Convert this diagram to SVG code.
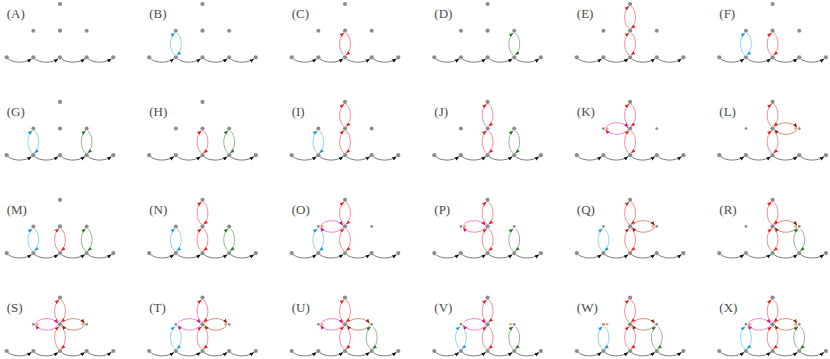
<svg xmlns="http://www.w3.org/2000/svg" xmlns:xlink="http://www.w3.org/1999/xlink" width="830" height="359" viewBox="0 0 830 359">
<style>
.lbl{font-family:"Liberation Serif","Times New Roman",serif;font-size:13px;fill:#4a4a4a}
.ck{fill:none;stroke:#5a5a5a;stroke-width:0.8}
.eb{fill:none;stroke:#6cc4ef;stroke-width:0.75}
.er{fill:none;stroke:#f46a6a;stroke-width:0.75}
.eg{fill:none;stroke:#6aa66a;stroke-width:0.75}
.ep{fill:none;stroke:#f064b4;stroke-width:0.75}
.eo{fill:none;stroke:#c46a52;stroke-width:0.75}
.n{fill:#8c8c8c}
.sm{fill:#8c8c8c}
.s{fill:#f4a274}
</style>
<defs>
<marker id="ak" viewBox="0 0 10 10" refX="9" refY="5" markerWidth="4.5" markerHeight="4.5" markerUnits="userSpaceOnUse" orient="auto"><path d="M0,1 L10,5 L0,9 z" fill="#111"/></marker>
<marker id="ab" viewBox="0 0 10 10" refX="9" refY="5" markerWidth="4.5" markerHeight="4.5" markerUnits="userSpaceOnUse" orient="auto"><path d="M0,1 L10,5 L0,9 z" fill="#1e9be0"/></marker>
<marker id="ar" viewBox="0 0 10 10" refX="9" refY="5" markerWidth="4.5" markerHeight="4.5" markerUnits="userSpaceOnUse" orient="auto"><path d="M0,1 L10,5 L0,9 z" fill="#ff1a1a"/></marker>
<marker id="ag" viewBox="0 0 10 10" refX="9" refY="5" markerWidth="4.5" markerHeight="4.5" markerUnits="userSpaceOnUse" orient="auto"><path d="M0,1 L10,5 L0,9 z" fill="#2a7a2a"/></marker>
<marker id="ap" viewBox="0 0 10 10" refX="9" refY="5" markerWidth="4.5" markerHeight="4.5" markerUnits="userSpaceOnUse" orient="auto"><path d="M0,1 L10,5 L0,9 z" fill="#e0108a"/></marker>
<marker id="ao" viewBox="0 0 10 10" refX="9" refY="5" markerWidth="4.5" markerHeight="4.5" markerUnits="userSpaceOnUse" orient="auto"><path d="M0,1 L10,5 L0,9 z" fill="#8f2a10"/></marker>
<g id="chain">
<path class="ck" d="M1.5,1.5 C7,6 18,6 24.6,1.6" marker-end="url(#ak)"/>
<path class="ck" d="M28.15,1.5 C33.65,6 44.65,6 51.25,1.6" marker-end="url(#ak)"/>
<path class="ck" d="M54.8,1.5 C60.3,6 71.3,6 77.9,1.6" marker-end="url(#ak)"/>
<path class="ck" d="M81.45,1.5 C86.95,6 97.95,6 104.55,1.6" marker-end="url(#ak)"/>
</g>
<g id="vB"><path class="eb" d="M-1.2,-2.3 C-6.8,-7 -6.8,-19.6 -1.2,-24.3" marker-end="url(#ab)"/><path class="eb" d="M1.2,-24.3 C6.8,-19.6 6.8,-7 1.2,-2.3" marker-end="url(#ab)"/></g>
<g id="vR"><path class="er" d="M-1.2,-2.3 C-6.8,-7 -6.8,-19.6 -1.2,-24.3" marker-end="url(#ar)"/><path class="er" d="M1.2,-24.3 C6.8,-19.6 6.8,-7 1.2,-2.3" marker-end="url(#ar)"/></g>
<g id="vG"><path class="eg" d="M-1.2,-2.3 C-6.8,-7 -6.8,-19.6 -1.2,-24.3" marker-end="url(#ag)"/><path class="eg" d="M1.2,-24.3 C6.8,-19.6 6.8,-7 1.2,-2.3" marker-end="url(#ag)"/></g>
<g id="hP"><path class="ep" d="M2.3,-1.2 C7,-7.3 19.65,-7.3 24.35,-1.2" marker-end="url(#ap)"/><path class="ep" d="M24.35,1.2 C19.65,7.3 7,7.3 2.3,1.2" marker-end="url(#ap)"/></g>
<g id="hO"><path class="eo" d="M2.3,-1.2 C7,-7.3 19.65,-7.3 24.35,-1.2" marker-end="url(#ao)"/><path class="eo" d="M24.35,1.2 C19.65,7.3 7,7.3 2.3,1.2" marker-end="url(#ao)"/></g>
<g id="base">
<circle class="n" cx="0" cy="0" r="2.1"/><circle class="n" cx="26.65" cy="0" r="2.1"/><circle class="n" cx="53.3" cy="0" r="2.1"/><circle class="n" cx="79.95" cy="0" r="2.1"/><circle class="n" cx="106.6" cy="0" r="2.1"/>
<circle class="n" cx="53.3" cy="-26.65" r="2.1"/><circle class="n" cx="53.3" cy="-53.3" r="2.1"/>
</g>
<g id="sideN"><circle class="n" cx="26.65" cy="-26.65" r="2"/><circle class="n" cx="79.95" cy="-26.65" r="2"/></g>
<g id="sideS"><circle class="sm" cx="26.65" cy="-26.65" r="1.4"/><circle class="sm" cx="79.95" cy="-26.65" r="1.4"/></g>
<circle id="s1" class="s" cx="30.3" cy="-26.65" r="1.4"/>
<circle id="s3" class="s" cx="76.3" cy="-26.65" r="1.4"/>
</defs>

<g id="A" transform="translate(6.7,57.3)"><text class="lbl" y="-39.5">(A)</text><g class="conn"><use href="#chain"/></g><g class="nodes"><use href="#base"/><use href="#sideN"/></g></g>
<g id="B" transform="translate(149.2,57.3)"><text class="lbl" y="-39.5">(B)</text><g class="conn"><use href="#chain"/><use href="#vB" x="26.65"/></g><g class="nodes"><use href="#base"/><use href="#sideN"/></g></g>
<g id="C" transform="translate(291.7,57.3)"><text class="lbl" y="-39.5">(C)</text><g class="conn"><use href="#chain"/><use href="#vR" x="53.3"/></g><g class="nodes"><use href="#base"/><use href="#sideN"/></g></g>
<g id="D" transform="translate(434.3,57.3)"><text class="lbl" y="-39.5">(D)</text><g class="conn"><use href="#chain"/><use href="#vG" x="79.95"/></g><g class="nodes"><use href="#base"/><use href="#sideN"/></g></g>
<g id="E" transform="translate(576.8,57.3)"><text class="lbl" y="-39.5">(E)</text><g class="conn"><use href="#chain"/><use href="#vR" x="53.3"/><use href="#vR" x="53.3" y="-26.65"/></g><g class="nodes"><use href="#base"/><use href="#sideN"/></g></g>
<g id="F" transform="translate(719.3,57.3)"><text class="lbl" y="-39.5">(F)</text><g class="conn"><use href="#chain"/><use href="#vB" x="26.65"/><use href="#vR" x="53.3"/></g><g class="nodes"><use href="#base"/><use href="#sideN"/></g></g>

<g id="G" transform="translate(6.7,155.2)"><text class="lbl" y="-39.5">(G)</text><g class="conn"><use href="#chain"/><use href="#vB" x="26.65"/><use href="#vG" x="79.95"/></g><g class="nodes"><use href="#base"/><use href="#sideN"/></g></g>
<g id="H" transform="translate(149.2,155.2)"><text class="lbl" y="-39.5">(H)</text><g class="conn"><use href="#chain"/><use href="#vR" x="53.3"/><use href="#vG" x="79.95"/></g><g class="nodes"><use href="#base"/><use href="#sideN"/></g></g>
<g id="I" transform="translate(291.7,155.2)"><text class="lbl" y="-39.5">(I)</text><g class="conn"><use href="#chain"/><use href="#vB" x="26.65"/><use href="#vR" x="53.3"/><use href="#vR" x="53.3" y="-26.65"/></g><g class="nodes"><use href="#base"/><use href="#sideN"/></g></g>
<g id="J" transform="translate(434.3,155.2)"><text class="lbl" y="-39.5">(J)</text><g class="conn"><use href="#chain"/><use href="#vR" x="53.3"/><use href="#vR" x="53.3" y="-26.65"/><use href="#vG" x="79.95"/></g><g class="nodes"><use href="#base"/><use href="#sideN"/></g></g>
<g id="K" transform="translate(576.8,155.2)"><text class="lbl" y="-39.5">(K)</text><g class="conn"><use href="#chain"/><use href="#vR" x="53.3"/><use href="#vR" x="53.3" y="-26.65"/><use href="#hP" x="26.65" y="-26.65"/></g><g class="nodes"><use href="#base"/><use href="#sideS"/><use href="#s1"/></g></g>
<g id="L" transform="translate(719.3,155.2)"><text class="lbl" y="-39.5">(L)</text><g class="conn"><use href="#chain"/><use href="#vR" x="53.3"/><use href="#vR" x="53.3" y="-26.65"/><use href="#hO" x="53.3" y="-26.65"/></g><g class="nodes"><use href="#base"/><use href="#sideS"/><use href="#s3"/></g></g>

<g id="M" transform="translate(6.7,253.1)"><text class="lbl" y="-39.5">(M)</text><g class="conn"><use href="#chain"/><use href="#vB" x="26.65"/><use href="#vR" x="53.3"/><use href="#vG" x="79.95"/></g><g class="nodes"><use href="#base"/><use href="#sideN"/></g></g>
<g id="N" transform="translate(149.2,253.1)"><text class="lbl" y="-39.5">(N)</text><g class="conn"><use href="#chain"/><use href="#vB" x="26.65"/><use href="#vR" x="53.3"/><use href="#vR" x="53.3" y="-26.65"/><use href="#vG" x="79.95"/></g><g class="nodes"><use href="#base"/><use href="#sideN"/></g></g>
<g id="O" transform="translate(291.7,253.1)"><text class="lbl" y="-39.5">(O)</text><g class="conn"><use href="#chain"/><use href="#vB" x="26.65"/><use href="#vR" x="53.3"/><use href="#vR" x="53.3" y="-26.65"/><use href="#hP" x="26.65" y="-26.65"/></g><g class="nodes"><use href="#base"/><use href="#sideS"/><use href="#s1"/></g></g>
<g id="P" transform="translate(434.3,253.1)"><text class="lbl" y="-39.5">(P)</text><g class="conn"><use href="#chain"/><use href="#vR" x="53.3"/><use href="#vR" x="53.3" y="-26.65"/><use href="#hP" x="26.65" y="-26.65"/><use href="#vG" x="79.95"/></g><g class="nodes"><use href="#base"/><use href="#sideS"/><use href="#s1"/></g></g>
<g id="Q" transform="translate(576.8,253.1)"><text class="lbl" y="-39.5">(Q)</text><g class="conn"><use href="#chain"/><use href="#vB" x="26.65"/><use href="#vR" x="53.3"/><use href="#vR" x="53.3" y="-26.65"/><use href="#hO" x="53.3" y="-26.65"/></g><g class="nodes"><use href="#base"/><use href="#sideS"/><use href="#s3"/></g></g>
<g id="R" transform="translate(719.3,253.1)"><text class="lbl" y="-39.5">(R)</text><g class="conn"><use href="#chain"/><use href="#vR" x="53.3"/><use href="#vR" x="53.3" y="-26.65"/><use href="#hO" x="53.3" y="-26.65"/><use href="#vG" x="79.95"/></g><g class="nodes"><use href="#base"/><use href="#sideS"/><use href="#s3"/></g></g>

<g id="S" transform="translate(6.7,351)"><text class="lbl" y="-39.5">(S)</text><g class="conn"><use href="#chain"/><use href="#vR" x="53.3"/><use href="#vR" x="53.3" y="-26.65"/><use href="#hP" x="26.65" y="-26.65"/><use href="#hO" x="53.3" y="-26.65"/></g><g class="nodes"><use href="#base"/><use href="#sideS"/><use href="#s1"/><use href="#s3"/></g></g>
<g id="T" transform="translate(149.2,351)"><text class="lbl" y="-39.5">(T)</text><g class="conn"><use href="#chain"/><use href="#vB" x="26.65"/><use href="#vR" x="53.3"/><use href="#vR" x="53.3" y="-26.65"/><use href="#hP" x="26.65" y="-26.65"/><use href="#hO" x="53.3" y="-26.65"/></g><g class="nodes"><use href="#base"/><use href="#sideS"/><use href="#s3"/></g></g>
<g id="U" transform="translate(291.7,351)"><text class="lbl" y="-39.5">(U)</text><g class="conn"><use href="#chain"/><use href="#vR" x="53.3"/><use href="#vR" x="53.3" y="-26.65"/><use href="#hP" x="26.65" y="-26.65"/><use href="#hO" x="53.3" y="-26.65"/><use href="#vG" x="79.95"/></g><g class="nodes"><use href="#base"/><use href="#sideS"/><use href="#s1"/></g></g>
<g id="V" transform="translate(434.3,351)"><text class="lbl" y="-39.5">(V)</text><g class="conn"><use href="#chain"/><use href="#vB" x="26.65"/><use href="#vR" x="53.3"/><use href="#vR" x="53.3" y="-26.65"/><use href="#hP" x="26.65" y="-26.65"/><use href="#vG" x="79.95"/></g><g class="nodes"><use href="#base"/><use href="#sideS"/><use href="#s3"/></g></g>
<g id="W" transform="translate(576.8,351)"><text class="lbl" y="-39.5">(W)</text><g class="conn"><use href="#chain"/><use href="#vB" x="26.65"/><use href="#vR" x="53.3"/><use href="#vR" x="53.3" y="-26.65"/><use href="#hO" x="53.3" y="-26.65"/><use href="#vG" x="79.95"/></g><g class="nodes"><use href="#base"/><use href="#sideS"/><use href="#s1"/></g></g>
<g id="X" transform="translate(719.3,351)"><text class="lbl" y="-39.5">(X)</text><g class="conn"><use href="#chain"/><use href="#vB" x="26.65"/><use href="#vR" x="53.3"/><use href="#vR" x="53.3" y="-26.65"/><use href="#hP" x="26.65" y="-26.65"/><use href="#hO" x="53.3" y="-26.65"/><use href="#vG" x="79.95"/></g><g class="nodes"><use href="#base"/><use href="#sideS"/><use href="#s1"/><use href="#s3"/></g></g>
</svg>
